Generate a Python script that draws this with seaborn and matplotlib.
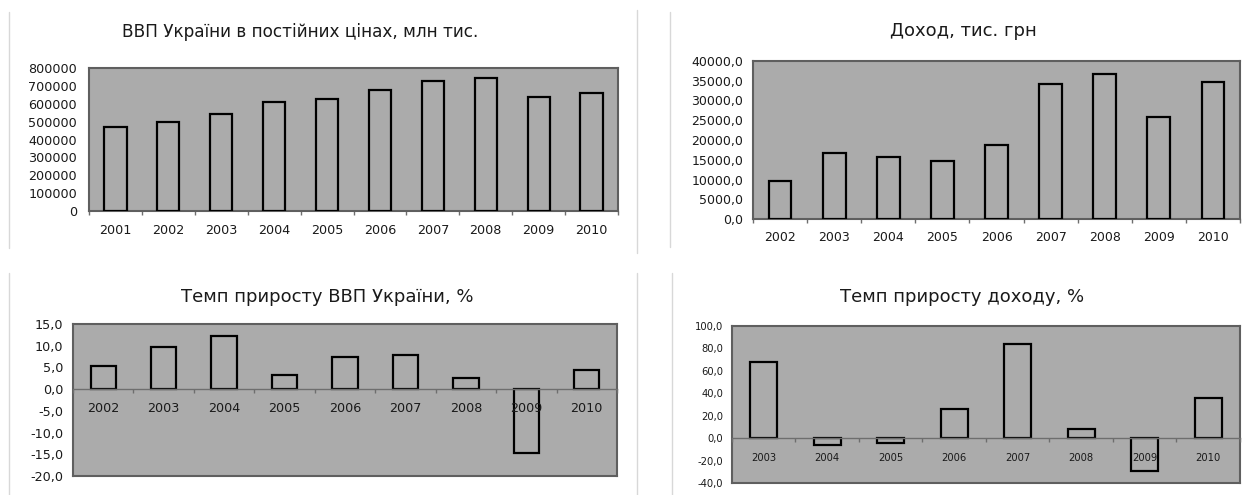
import numpy as np
import pandas as pd
import matplotlib
matplotlib.use('Agg')
import matplotlib.pyplot as plt
import seaborn as sns
from matplotlib.ticker import FuncFormatter, FixedLocator, MultipleLocator
from matplotlib.lines import Line2D

# ---- дані ----
years_gdp = ['2001', '2002', '2003', '2004', '2005', '2006', '2007', '2008', '2009', '2010']
gdp = [472000, 496000, 540000, 609000, 625000, 676000, 727000, 742000, 635000, 658000]

years_inc = ['2002', '2003', '2004', '2005', '2006', '2007', '2008', '2009', '2010']
income = [9700, 16800, 15700, 14800, 18800, 34300, 36600, 25800, 34800]

years_gdp_gr = ['2002', '2003', '2004', '2005', '2006', '2007', '2008', '2009', '2010']
gdp_growth = [5.3, 9.6, 12.3, 3.2, 7.4, 7.8, 2.6, -14.7, 4.3]

years_inc_gr = ['2003', '2004', '2005', '2006', '2007', '2008', '2009', '2010']
income_growth = [68.0, -5.9, -4.2, 25.8, 84.3, 8.3, -29.7, 35.6]

sns.set_style('white')
plt.rcParams['font.family'] = ['DejaVu Sans']

BG = '#ababab'
GRID = '#6e6e6e'
FRAME = '#5f5f5f'
TXT = '#1a1a1a'

W, H = 1243, 495
fig = plt.figure(figsize=(W / 100, H / 100), dpi=100)


def px_axes(x0, x1, y0, y1):
    return fig.add_axes([x0 / W, 1 - y1 / H, (x1 - x0) / W, (y1 - y0) / H])


def comma1(v, pos):
    return f'{v:.1f}'.replace('.', ',')


def draw(ax, cats, vals, ylim, step, fmt, grid_at, fs, ypad, xpad, zero_axis):
    df = pd.DataFrame({'year': cats, 'value': vals})
    sns.barplot(data=df, x='year', y='value', ax=ax, width=0.42, color=BG,
                saturation=1, edgecolor='black', linewidth=1.6, zorder=3)
    ax.set_facecolor(BG)
    ax.set_ylim(*ylim)
    ax.set_xlabel('')
    ax.set_ylabel('')
    ax.yaxis.set_major_locator(MultipleLocator(step))
    ax.yaxis.set_major_formatter(FuncFormatter(fmt))
    ax.yaxis.set_minor_locator(FixedLocator(grid_at))
    ax.grid(False)
    ax.grid(which='minor', axis='y', color=GRID, linewidth=1.0, zorder=1)
    ax.tick_params(axis='y', which='major', length=0, pad=ypad + 2.5,
                   labelsize=fs, labelcolor=TXT)
    ax.tick_params(axis='y', which='minor', length=3, width=1, color=GRID, left=True)
    for s in ax.spines.values():
        s.set_visible(True)
        s.set_color(FRAME)
        s.set_linewidth(1.5)
    n = len(cats)
    bounds = np.arange(n + 1) - 0.5
    if zero_axis:
        ax.set_xticks([])
        ax.tick_params(axis='x', which='both', bottom=False, labelbottom=False)
        sec = ax.secondary_xaxis(0, transform=ax.transData)
        sec.set_zorder(5)
        sec.set_xticks(range(n), labels=cats)
        sec.xaxis.set_minor_locator(FixedLocator(bounds))
        sec.tick_params(axis='x', which='major', length=0, pad=xpad,
                        labelsize=fs, labelcolor=TXT)
        sec.tick_params(axis='x', which='minor', length=3, width=1, color=GRID)
        sec.spines['bottom'].set_color(GRID)
        sec.spines['bottom'].set_linewidth(1.0)
    else:
        ax.set_xticks(range(n), cats)
        ax.xaxis.set_minor_locator(FixedLocator(bounds))
        ax.tick_params(axis='x', which='major', length=0, pad=xpad,
                       labelsize=fs, labelcolor=TXT)
        ax.tick_params(axis='x', which='minor', length=3, width=1, color=GRID, bottom=True)


# ВВП
ax1 = px_axes(89, 618, 68, 211)
draw(ax1, years_gdp, gdp, (0, 800000), 100000, lambda v, p: f'{int(v)}',
     [600000, 700000, 200000, 300000], 9.2, 6, 9, False)

# Доход
ax2 = px_axes(753, 1240, 61, 219)
draw(ax2, years_inc, income, (0, 40000), 5000, comma1,
     [5000, 10000, 35000], 9, 4.5, 8.5, False)

# Темп приросту ВВП
ax3 = px_axes(73, 617, 324, 476)
draw(ax3, years_gdp_gr, gdp_growth, (-20, 15), 5, comma1,
     [-15, -10], 9.2, 4.5, 9.5, True)

# Темп приросту доходу
ax4 = px_axes(732, 1240, 326, 483)
draw(ax4, years_inc_gr, income_growth, (-40, 100), 20, comma1,
     [20, 80], 7.2, 4, 10.5, True)

# заголовки
titles = [
    (300, 32, 'ВВП України в постійних цінах, млн тис.', 12.2),
    (963, 31, 'Доход, тис. грн', 13),
    (327, 297, 'Темп приросту ВВП України, %', 13),
    (962, 297, 'Темп приросту доходу, %', 13),
]
for x, y, t, fs in titles:
    fig.text(x / W, 1 - y / H, t, ha='center', va='center', fontsize=fs,
             color=TXT)

# рамки діаграм
frame_lines = [
    (9, 12, 248), (9, 273, 495),
    (637, 10, 253), (637, 273, 495),
    (670, 12, 247), (672, 273, 495),
]
for x, y0, y1 in frame_lines:
    fig.add_artist(Line2D([x / W, x / W], [1 - y0 / H, 1 - y1 / H],
                          transform=fig.transFigure, color='#d8d8d8', linewidth=1))

plt.savefig('out.png', dpi=100)
